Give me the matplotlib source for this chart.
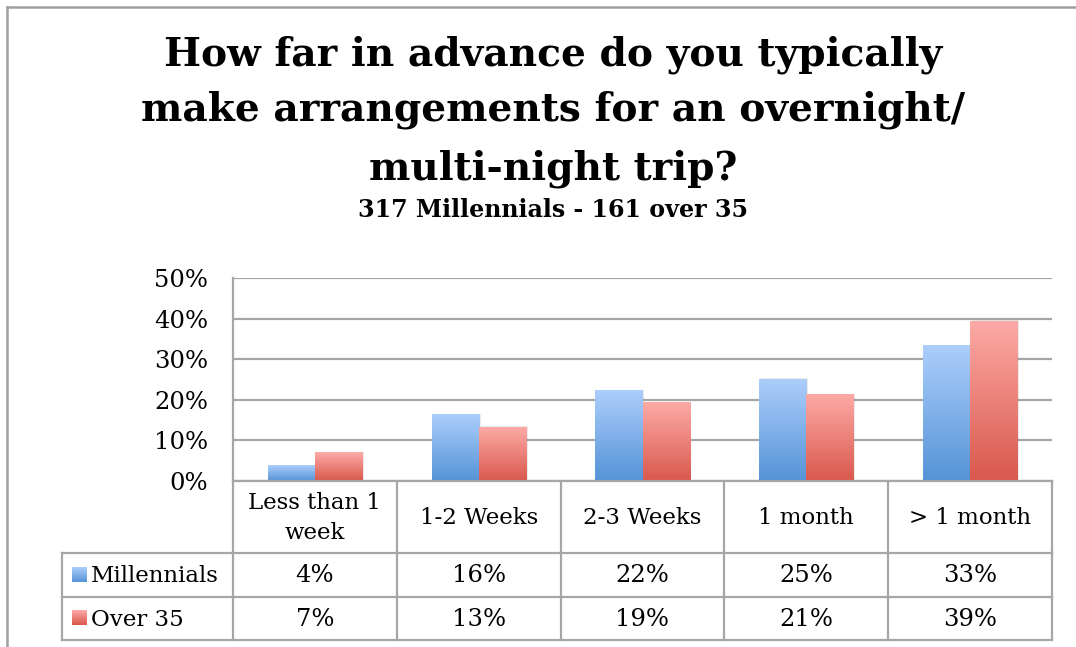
import numpy as np
import matplotlib
matplotlib.use("Agg")
import matplotlib.pyplot as plt
from matplotlib.colors import LinearSegmentedColormap
from matplotlib.patches import Rectangle

# ---- data ----
categories = ["Less than 1\nweek", "1-2 Weeks", "2-3 Weeks", "1 month", "> 1 month"]
series_names = ["Millennials", "Over 35"]
millennials = [3.7, 16.3, 22.2, 25.1, 33.4]
over35 = [7.1, 13.3, 19.4, 21.2, 39.4]
yticks = [0, 10, 20, 30, 40, 50]
title_lines = ["How far in advance do you typically",
               "make arrangements for an overnight/",
               "multi-night trip?"]
subtitle = "317 Millennials - 161 over 35"

W, H = 1076, 647
fig = plt.figure(figsize=(W / 100, H / 100), dpi=100)
fig.patch.set_facecolor("white")
renderer = fig.canvas.get_renderer()

def fx(px):
    return px / W

def fy(py):
    return 1 - py / H

GRID = "#a6a6a6"
BODY_FONT = "DejaVu Serif"
TITLE_FONT = "DejaVu Serif"

# outer chart border (left and top)
fig.add_artist(plt.Line2D([fx(7), fx(7)], [fy(7), fy(H)], color="#a0a0a0", lw=1.8))
fig.add_artist(plt.Line2D([fx(7), fx(W)], [fy(7), fy(7)], color="#a0a0a0", lw=1.8))

def fit_text(t, target_px):
    w = t.get_window_extent(renderer).width
    t.set_fontsize(t.get_fontsize() * target_px / w)

# titles
ys = [65, 120.5, 179]
tts = []
for line, yb in zip(title_lines, ys):
    tts.append(fig.text(fx(553), fy(yb), line, ha="center", va="baseline",
                        fontsize=30, fontweight="bold", family=TITLE_FONT))
fit_text(tts[0], 777)
for t in tts[1:]:
    t.set_fontsize(tts[0].get_fontsize())
st = fig.text(fx(553), fy(217), subtitle, ha="center", va="baseline",
              fontsize=18, fontweight="bold", family=TITLE_FONT)
fit_text(st, 391)

# ---- bar axes ----
L, R, T, B = 233, 1052, 278, 481
ax = fig.add_axes([fx(L), fy(B), fx(R - L), (B - T) / H])
ax.set_xlim(-0.5, len(categories) - 0.5)
ax.set_ylim(0, 50)
ax.set_yticks(yticks)
ax.set_yticklabels([f"{v}%" for v in yticks], family=BODY_FONT, fontsize=17.5)
ax.tick_params(axis="y", length=0, pad=18)
ax.set_xticks([])
for s in ["top", "right", "bottom"]:
    ax.spines[s].set_visible(False)
ax.spines["left"].set_color(GRID)
ax.spines["left"].set_linewidth(1.6)
ax.yaxis.grid(True, color=GRID, lw=1.6)
ax.set_axisbelow(True)

bw = 0.287
x = np.arange(len(categories))
cmap_b = LinearSegmentedColormap.from_list("b", ["#5593d7", "#acceFB"])
cmap_r = LinearSegmentedColormap.from_list("r", ["#d9584c", "#fdaaa6"])
grad = np.linspace(0, 1, 256).reshape(-1, 1)

for vals, off, cmap in [(millennials, -bw / 2, cmap_b), (over35, bw / 2, cmap_r)]:
    bars = ax.bar(x + off, vals, width=bw, color="none", edgecolor="none", zorder=3)
    for b in bars:
        x0, y0, w, h = b.get_x(), b.get_y(), b.get_width(), b.get_height()
        ax.add_patch(Rectangle((x0 + 0.012, y0), w, h + 0.15, facecolor="#000000",
                               alpha=0.08, edgecolor="none", zorder=2.5))
        ax.imshow(grad, extent=(x0, x0 + w, y0, y0 + h), origin="lower",
                  cmap=cmap, aspect="auto", zorder=3, interpolation="bilinear")
ax.set_xlim(-0.5, len(categories) - 0.5)
ax.set_ylim(0, 50)

# ---- data table ----
TB = 640
tax = fig.add_axes([fx(L), fy(TB), fx(R - L), (TB - B) / H])
tax.set_xlim(-0.5, len(categories) - 0.5)
tax.set_ylim(TB - B, 0)
tax.axis("off")
rows = [0, 72, 116, 159]
cw = (R - L) / len(categories)
xl = -0.5 - (L - 62) / cw
lkw = dict(color=GRID, lw=1.6, clip_on=False, solid_capstyle="projecting")
tax.plot([-0.5, 4.5], [rows[0], rows[0]], **lkw)
for r in rows[1:]:
    tax.plot([xl, 4.5], [r, r], **lkw)
for i in range(len(categories) + 1):
    tax.plot([i - 0.5, i - 0.5], [rows[0], rows[-1]], **lkw)
tax.plot([xl, xl], [rows[1], rows[-1]], **lkw)

tk = dict(ha="center", va="center", family=BODY_FONT, clip_on=False)
for i, c in enumerate(categories):
    tax.text(i, (rows[0] + rows[1]) / 2 + 1, c, linespacing=1.5, fontsize=16.5, **tk)
for ri, (vals, name, cmap) in enumerate([(millennials, series_names[0], cmap_b),
                                          (over35, series_names[1], cmap_r)]):
    yc = (rows[ri + 1] + rows[ri + 2]) / 2
    for i, v in enumerate(vals):
        tax.text(i, yc + 1, f"{round(v):d}%", fontsize=17.5, **tk)
    kx0 = xl + 10 / cw
    kw = 15 / cw
    tax.imshow(grad, extent=(kx0, kx0 + kw, yc + 7, yc - 8), origin="lower",
               cmap=cmap, aspect="auto", clip_on=False, interpolation="bilinear")
    tax.text(kx0 + kw + 4 / cw, yc + 1, name, ha="left", va="center",
             family=BODY_FONT, fontsize=16.5, clip_on=False)
tax.set_xlim(-0.5, len(categories) - 0.5)
tax.set_ylim(TB - B, 0)

fig.savefig("out.png", dpi=100)
